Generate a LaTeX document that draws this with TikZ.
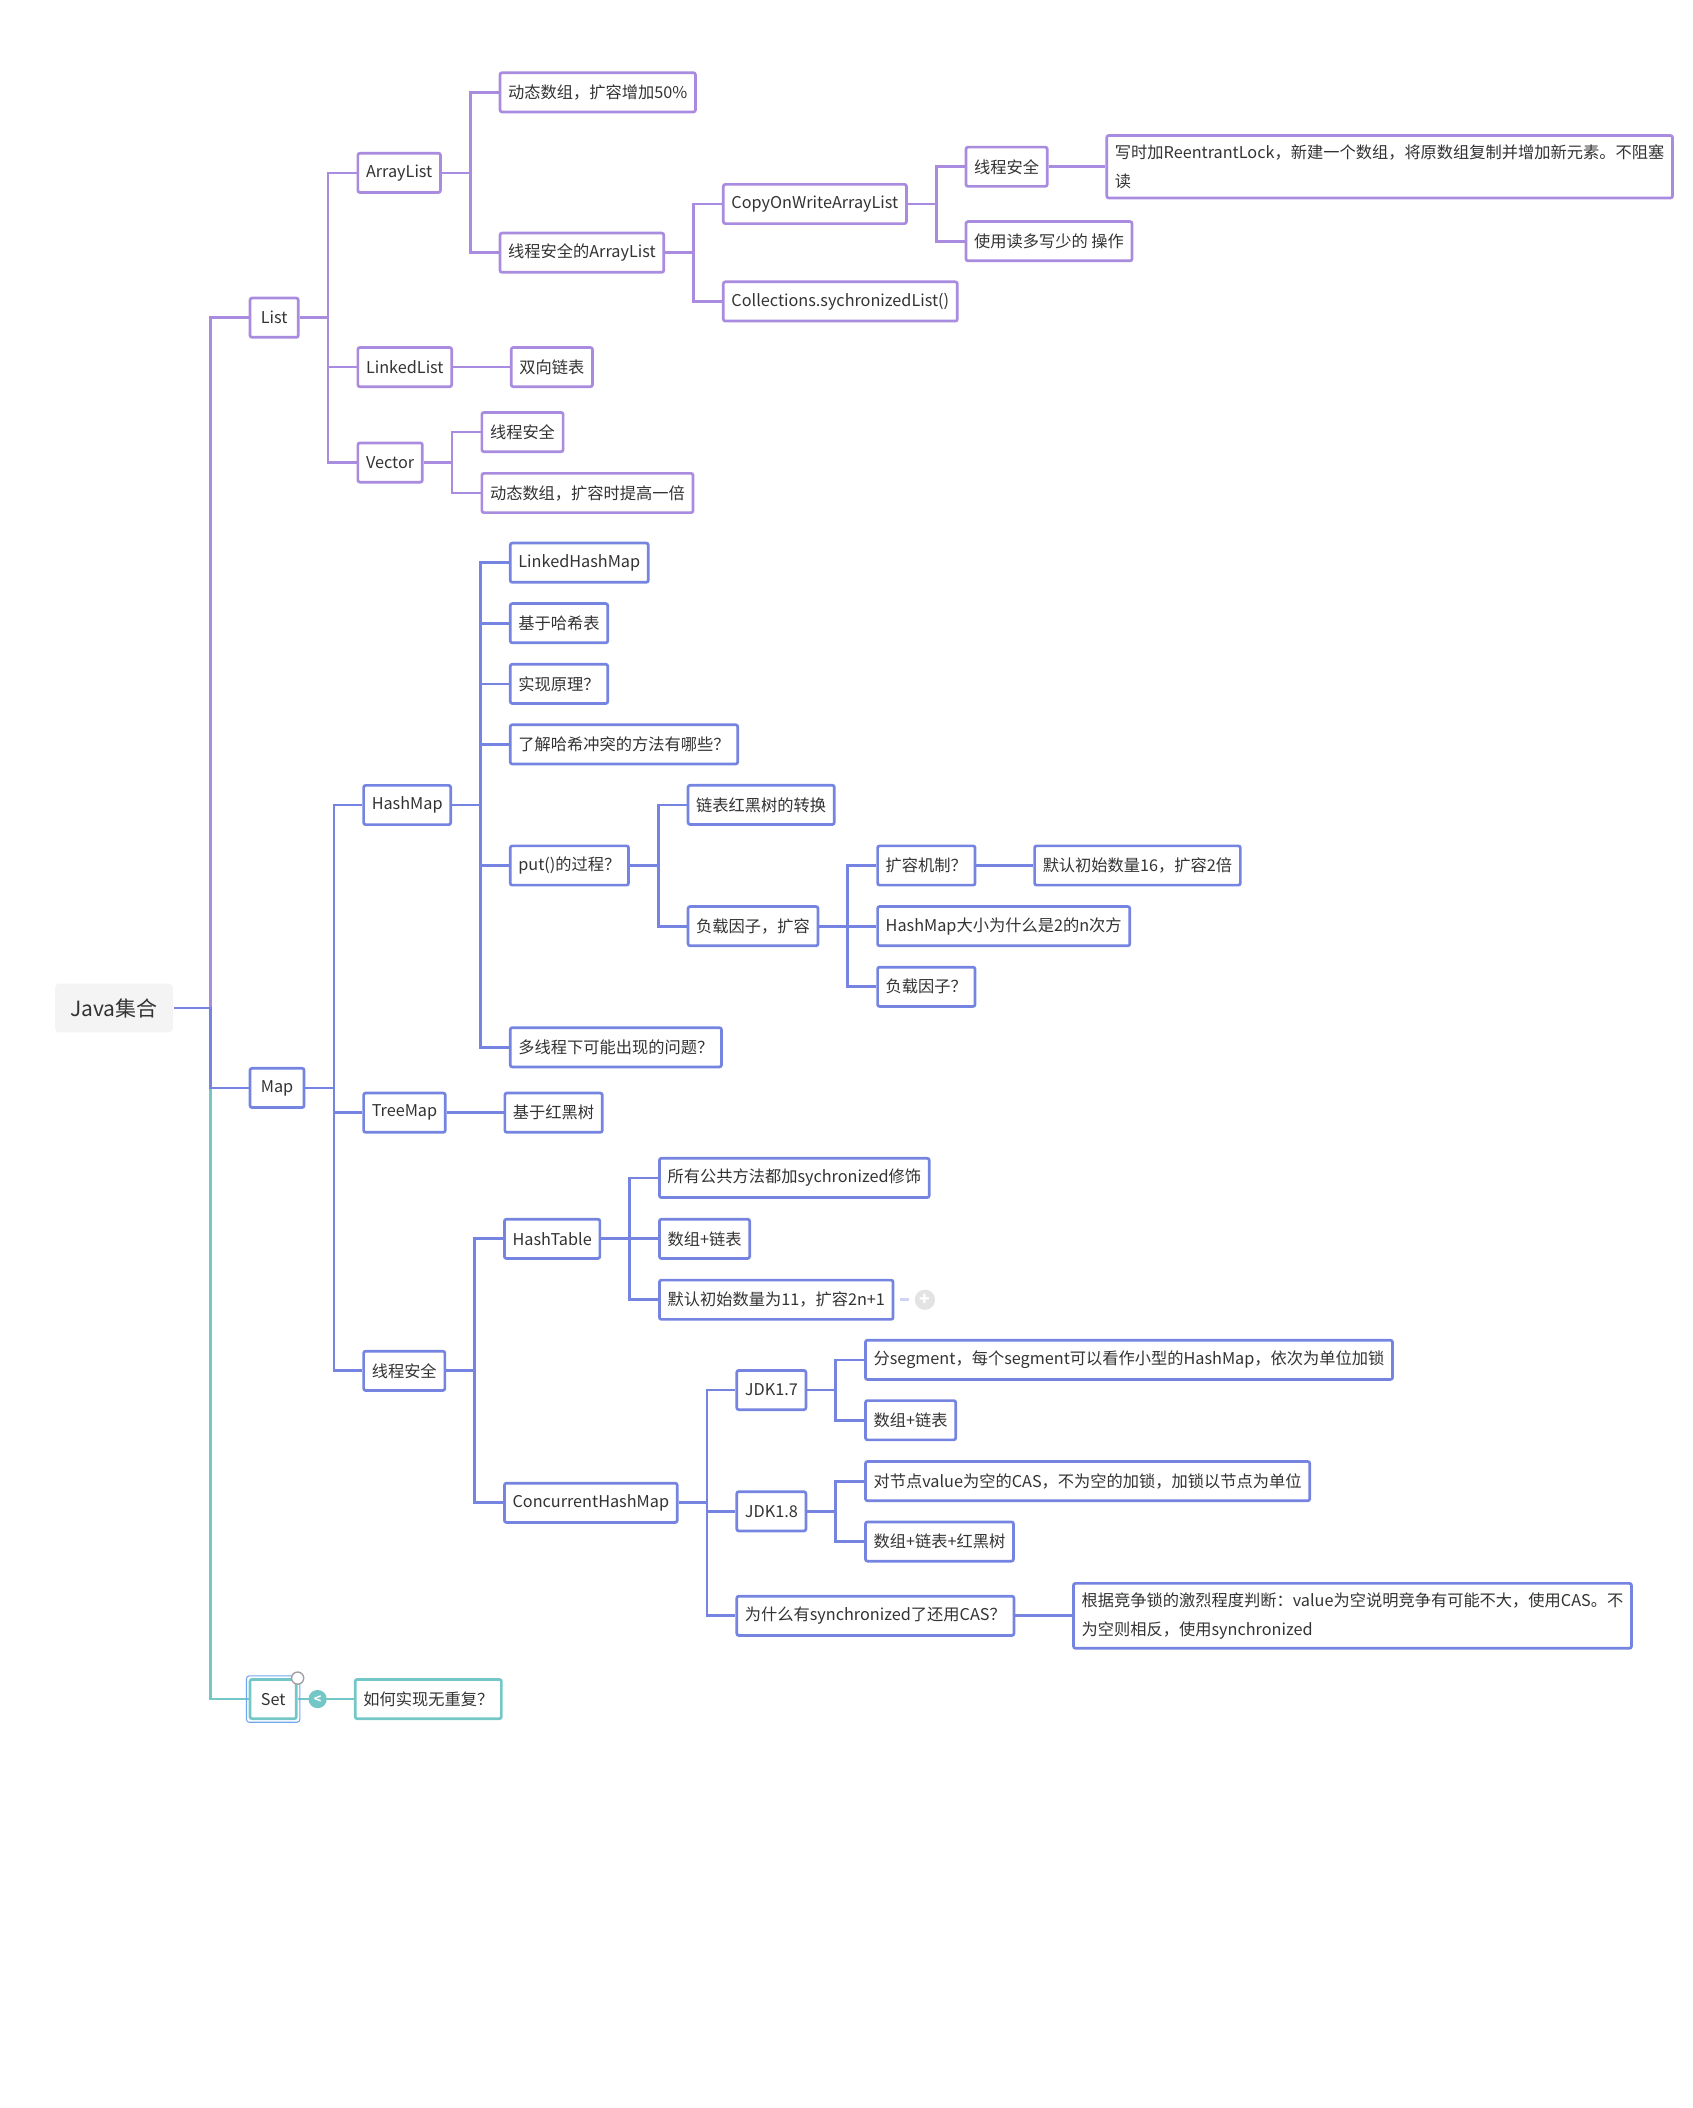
\documentclass[tikz,border=0pt]{standalone}
\usepackage{fontspec}
\setmainfont{Noto Sans CJK SC}
\usepackage{tikz}
\usetikzlibrary{positioning, calc}
\definecolor{lcol}{HTML}{A98BE0}
\definecolor{mcol}{HTML}{7584E0}
\definecolor{scol}{HTML}{74C7C7}
\definecolor{selcol}{HTML}{6FA8F0}
\definecolor{rootfill}{HTML}{F4F4F4}
\definecolor{txt}{HTML}{333333}

\begin{document}
\begin{tikzpicture}[x=1pt, y=1pt, node distance=42pt, line width=2pt,
    box/.style={draw, rectangle, rounded corners=1.5pt, fill=white, text=txt, inner xsep=6pt, inner ysep=7pt,
        minimum height=29pt, align=left, font=\fontsize{12pt}{21pt}\selectfont},
    lbox/.style={box, draw=lcol},
    mbox/.style={box, draw=mcol},
    sbox/.style={box, draw=scol},
    topbox/.style={inner xsep=8pt},
    rootbox/.style={rectangle, rounded corners=3pt, fill=rootfill, text=txt, minimum width=87pt,
        minimum height=36pt, font=\fontsize{15.5pt}{18pt}\selectfont}]
    \useasboundingbox (0,0) rectangle (1250,-1557.3);

    \node (root) [rootbox] at (84.2,-744.7) {Java集合};

    \node (list) [lbox, topbox, right=55pt of root, yshift=510pt] {List};
    \node (map) [mbox, topbox, right=55pt of root, yshift=-59pt] {Map};
    \node (set) [sbox, topbox, right=55pt of root, yshift=-510.5pt] {Set};

    \node (arraylist) [lbox, right=of list, yshift=107pt] {ArrayList};
    \node (linkedlist) [lbox, right=of list, yshift=-36.5pt] {LinkedList};
    \node (vector) [lbox, right=of list, yshift=-107pt] {Vector};

    \node (al1) [lbox, right=of arraylist, yshift=59.5pt] {动态数组，扩容增加50\%};
    \node (al2) [lbox, right=of arraylist, yshift=-59pt] {线程安全的ArrayList};
    \node (cow) [lbox, right=of al2, yshift=36pt] {CopyOnWriteArrayList};
    \node (csl) [lbox, right=of al2, yshift=-36pt] {Collections.sychronizedList()};
    \node (cow1) [lbox, right=of cow, yshift=27.5pt] {线程安全};
    \node (cow2) [lbox, right=of cow, yshift=-27.5pt] {使用读多写少的 操作};
    \node (cow3) [lbox, right=of cow1] {写时加ReentrantLock，新建一个数组，将原数组复制并增加新元素。不阻塞\\读};

    \node (ll1) [lbox, right=of linkedlist] {双向链表};
    \node (vec1) [lbox, right=of vector, yshift=22.5pt] {线程安全};
    \node (vec2) [lbox, right=of vector, yshift=-22.5pt] {动态数组，扩容时提高一倍};

    \node (hashmap) [mbox, right=of map, yshift=209pt] {HashMap};
    \node (treemap) [mbox, right=of map, yshift=-18.3pt] {TreeMap};
    \node (safemap) [mbox, right=of map, yshift=-209pt] {线程安全};

    \node (hm1) [mbox, right=of hashmap, yshift=179pt] {LinkedHashMap};
    \node (hm2) [mbox, right=of hashmap, yshift=134.3pt] {基于哈希表};
    \node (hm3) [mbox, right=of hashmap, yshift=89.5pt] {实现原理？};
    \node (hm4) [mbox, right=of hashmap, yshift=44.8pt] {了解哈希冲突的方法有哪些？};
    \node (put) [mbox, right=of hashmap, yshift=-44.7pt] {put()的过程？};
    \node (hm6) [mbox, right=of hashmap, yshift=-179pt] {多线程下可能出现的问题？};

    \node (put1) [mbox, right=of put, yshift=44.8pt] {链表红黑树的转换};
    \node (load) [mbox, right=of put, yshift=-44.8pt] {负载因子，扩容};
    \node (load1) [mbox, right=of load, yshift=44.8pt] {扩容机制？};
    \node (load2) [mbox, right=of load] {HashMap大小为什么是2的n次方};
    \node (load3) [mbox, right=of load, yshift=-44.8pt] {负载因子？};
    \node (load4) [mbox, right=of load1] {默认初始数量16，扩容2倍};

    \node (tm1) [mbox, right=of treemap] {基于红黑树};

    \node (hashtable) [mbox, right=of safemap, yshift=97.5pt] {HashTable};
    \node (chm) [mbox, right=of safemap, yshift=-97.5pt] {ConcurrentHashMap};

    \node (ht1) [mbox, right=of hashtable, yshift=45pt] {所有公共方法都加sychronized修饰};
    \node (ht2) [mbox, right=of hashtable] {数组+链表};
    \node (ht3) [mbox, right=of hashtable, yshift=-45pt] {默认初始数量为11，扩容2n+1};
    \node (plus) [circle, fill=gray!22, text=white, minimum size=15pt, inner sep=0pt, right=14pt of ht3,
        font=\fontsize{13pt}{13pt}\selectfont\bfseries] {+};

    \node (jdk7) [mbox, right=of chm, yshift=83.3pt] {JDK1.7};
    \node (jdk8) [mbox, right=of chm, yshift=-6.3pt] {JDK1.8};
    \node (cas) [mbox, right=of chm, yshift=-83.5pt] {为什么有synchronized了还用CAS？};

    \node (jdk71) [mbox, right=of jdk7, yshift=22.3pt] {分segment，每个segment可以看作小型的HashMap，依次为单位加锁};
    \node (jdk72) [mbox, right=of jdk7, yshift=-22.3pt] {数组+链表};
    \node (jdk81) [mbox, right=of jdk8, yshift=22.3pt] {对节点value为空的CAS，不为空的加锁，加锁以节点为单位};
    \node (jdk82) [mbox, right=of jdk8, yshift=-22.3pt] {数组+链表+红黑树};
    \node (cas1) [mbox, right=of cas] {根据竞争锁的激烈程度判断：value为空说明竞争有可能不大，使用CAS。不\\为空则相反，使用synchronized};

    \node (setq) [sbox, right=41.5pt of set] {如何实现无重复？};

    \draw[lcol] (root.east) -- ++(27,0) |- (list.west);
    \draw[scol] (root.east) -- ++(27,0) |- (set.west);
    \draw[mcol] (root.east) -- ++(27,0) |- (map.west);

    \foreach \c in {arraylist, linkedlist, vector}
        \draw[lcol] (list.east) -- ++(21,0) |- (\c.west);
    \foreach \c in {al1, al2}
        \draw[lcol] (arraylist.east) -- ++(21,0) |- (\c.west);
    \foreach \c in {cow, csl}
        \draw[lcol] (al2.east) -- ++(21,0) |- (\c.west);
    \foreach \c in {cow1, cow2}
        \draw[lcol] (cow.east) -- ++(21,0) |- (\c.west);
    \draw[lcol] (cow1) -- (cow3);
    \draw[lcol] (linkedlist) -- (ll1);
    \foreach \c in {vec1, vec2}
        \draw[lcol] (vector.east) -- ++(21,0) |- (\c.west);

    \foreach \c in {hashmap, treemap, safemap}
        \draw[mcol] (map.east) -- ++(21,0) |- (\c.west);
    \foreach \c in {hm1, hm2, hm3, hm4, put, hm6}
        \draw[mcol] (hashmap.east) -- ++(21,0) |- (\c.west);
    \foreach \c in {put1, load}
        \draw[mcol] (put.east) -- ++(21,0) |- (\c.west);
    \foreach \c in {load1, load2, load3}
        \draw[mcol] (load.east) -- ++(21,0) |- (\c.west);
    \draw[mcol] (load1) -- (load4);
    \draw[mcol] (treemap) -- (tm1);
    \foreach \c in {hashtable, chm}
        \draw[mcol] (safemap.east) -- ++(21,0) |- (\c.west);
    \foreach \c in {ht1, ht2, ht3}
        \draw[mcol] (hashtable.east) -- ++(21,0) |- (\c.west);
    \draw[mcol!35, shorten <=4pt, shorten >=3pt] (ht3) -- (plus);
    \foreach \c in {jdk7, jdk8, cas}
        \draw[mcol] (chm.east) -- ++(21,0) |- (\c.west);
    \foreach \c in {jdk71, jdk72}
        \draw[mcol] (jdk7.east) -- ++(21,0) |- (\c.west);
    \foreach \c in {jdk81, jdk82}
        \draw[mcol] (jdk8.east) -- ++(21,0) |- (\c.west);
    \draw[mcol] (cas) -- (cas1);

    \draw[scol] (set) -- (setq);
    \draw[selcol, line width=0.8pt, rounded corners=2pt] ([shift={(-1.6,1.6)}]set.north west) rectangle ([shift={(1.6,-1.6)}]set.south east);
    \node (fold) [circle, fill=scol, text=white, minimum size=13.5pt, inner sep=0pt, right=7pt of set,
        font=\fontsize{9pt}{9pt}\selectfont\bfseries] {<};
    \node (dot) [circle, draw=gray!75, fill=white, line width=1pt, minimum size=9pt, inner sep=0pt] at (set.north east) {};
\end{tikzpicture}
\end{document}
